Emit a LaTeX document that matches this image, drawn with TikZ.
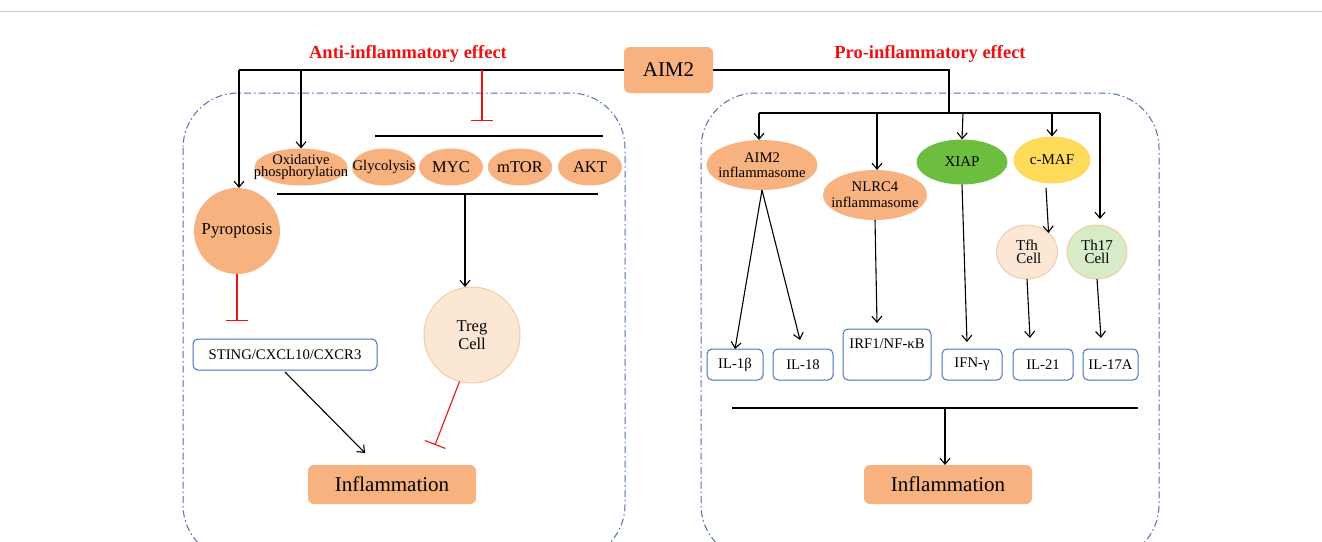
\documentclass[tikz,border=0pt]{standalone}
\usepackage{fontspec}
\setmainfont{Liberation Serif}
\usetikzlibrary{arrows.meta,calc,shapes.geometric}
\definecolor{orng}{HTML}{F8B27F}
\definecolor{peach}{HTML}{FCE6D4}
\definecolor{peachb}{HTML}{F5CBA7}
\definecolor{xgreen}{HTML}{6DBE3F}
\definecolor{myel}{HTML}{FFDB5A}
\definecolor{lgreen}{HTML}{D6EBC6}
\definecolor{bblue}{HTML}{4472C4}
\definecolor{dashblue}{HTML}{4F6FAE}
\definecolor{hred}{HTML}{EE1111}
\begin{document}
\begin{tikzpicture}[x=1pt,y=-1pt,
  every node/.style={inner sep=0pt,outer sep=0pt,align=center},
  shp/.style 2 args={minimum width=#1,minimum height=#2},
  oval/.style={ellipse,fill=orng,minimum width=#1,minimum height=37},
  oval/.default=64,
  ibox/.style={draw=bblue,line width=1pt,rounded corners=5pt,fill=white,minimum height=31},
  conn/.style={line width=1.1pt,-{Straight Barb[length=6pt,width=10pt]}},
  plain/.style={line width=1.1pt},
  inh/.style={line width=1.1pt,draw=hred,-{Bar[width=22pt,line width=1.1pt]}},
  region/.style={draw=dashblue,line width=1pt,dash pattern=on 7pt off 3pt on 1.5pt off 3pt,rounded corners=55pt},
  head/.style={text=hred,font=\bfseries\fontsize{18.5}{20}\selectfont},
  infl/.style={fill=orng,rounded corners=6pt,minimum width=168,minimum height=39,font=\fontsize{21}{23}\selectfont},
  tx/.style={font=\fontsize{14.7}{15}\selectfont},
  lb/.style={label={[align=center,font=\fontsize{#1}{#1}\selectfont]center:{\lbtext}}},
]
\useasboundingbox (0,0) rectangle (1322,541);
\fill[white] (0,0) rectangle (1322,541);
\draw[black!20,line width=1pt] (0,11) -- (1322,11);

% regions
\draw[region] (183,93) rectangle (625,560);
\draw[region] (701,93) rectangle (1159,560);

% AIM2
\node[fill=orng,rounded corners=6pt,minimum width=89,minimum height=46,font=\fontsize{21}{23}\selectfont] (aim2) at (668.5,70) {AIM2};

\node[head] (anti) at (408,54) {Anti-inflammatory effect};
\node[head] (pro) at (930,54) {Pro-inflammatory effect};

% left side nodes
\node[oval=64] (gly) at (384,167) {};
\node[oval=93] (oxp) at (301,167) {};
\node[font=\fontsize{14.5}{12}\selectfont] (oxpt) at (oxp.center) {Oxidative\\phosphorylation};
\node[font=\fontsize{14.7}{15}\selectfont] (glyt) at (gly.center) {Glycolysis};
\node[oval,font=\fontsize{16.5}{18}\selectfont] (myc) at (451,167) {MYC};
\node[oval,font=\fontsize{16.5}{18}\selectfont] (mtor) at (520,167) {mTOR};
\node[oval,font=\fontsize{16.5}{18}\selectfont] (akt) at (590,167) {AKT};

\node[circle,fill=orng,minimum size=86] (pyro) at (237,231) {};
\node[font=\fontsize{16.7}{18}\selectfont] (pyrot) at (pyro.center) {Pyroptosis};
\node[ibox,minimum width=184,font=\fontsize{14.7}{16}\selectfont] (sting) at (285,354.5) {STING/CXCL10/CXCR3};
\node[circle,fill=peach,draw=peachb,line width=1pt,minimum size=96,font=\fontsize{16.5}{18}\selectfont] (treg) at (472,335) {Treg\\Cell};
\node[infl] (inflL) at (392,484.5) {Inflammation};

% left connectors
\coordinate (jL) at (239,70);
\coordinate (jO) at (301,70);
\coordinate (jI) at (482,70);
\coordinate (tI) at (482,121);
\coordinate (bar1a) at (375,136);
\coordinate (bar1b) at (603,136);
\coordinate (bar2a) at (277,194);
\coordinate (bar2b) at (598,194);
\coordinate (bar2m) at (465,194);
\coordinate (sS) at (285,372);
\coordinate (sE) at (365,453);
\coordinate (tE) at (435,445);
\coordinate (pE) at (237,321);
\draw[plain] (aim2.west) -- (jL);
\draw[conn] (jL) -- (pyro.north -| jL);
\draw[conn] (jO) -- (oxp.north);
\draw[inh] (jI) -- (tI);
\draw[plain] (bar1a) -- (bar1b);
\draw[plain] (bar2a) -- (bar2b);
\draw[conn] (bar2m) -- (treg.north -| bar2m);
\draw[inh] (pyro.south) -- (pE);
\draw[conn] (sS) -- (sE);
\draw[inh] (treg.-105) -- (tE);

% right side nodes
\node[ellipse,fill=orng,minimum width=111,minimum height=50] (ai) at (762,165) {};
\node[tx] (ait) at (ai.center) {AIM2\\inflammasome};
\node[ellipse,fill=orng,minimum width=104,minimum height=50] (nl) at (875,195) {};
\node[font=\fontsize{14.7}{16}\selectfont] (nlt) at (nl.center) {NLRC4\\inflammasome};
\node[ellipse,fill=xgreen,minimum width=91,minimum height=45,font=\fontsize{15}{16}\selectfont] (xiap) at (962,162) {XIAP};
\node[ellipse,fill=myel,minimum width=77,minimum height=47,font=\fontsize{15}{16}\selectfont] (cmaf) at (1052,160) {c-MAF};
\node[ellipse,fill=peach,draw=peachb,line width=1pt,minimum width=61,minimum height=54] (tfh) at (1027,252) {};
\node[font=\fontsize{15}{13.5}\selectfont] (tfht) at (tfh.center) {Tfh\\\ Cell};
\node[ellipse,fill=lgreen,draw=peachb,line width=1pt,minimum width=60,minimum height=54] (th17) at (1097,252) {};
\node[font=\fontsize{15}{13.5}\selectfont] (th17t) at (th17.center) {Th17\\Cell};

\node[ibox,minimum width=56,tx] (il1b) at (735,364.5) {IL-1β};
\node[ibox,minimum width=60,tx] (il18) at (803,364.5) {IL-18};
\node[ibox,minimum width=88,minimum height=51,tx] (irf) at (887,354.5) {IRF1/NF-κB\\[7pt]};
\node[ibox,minimum width=60,tx] (ifn) at (972,364.5) {IFN-γ};
\node[ibox,minimum width=60,tx] (il21) at (1043,364.5) {IL-21};
\node[ibox,minimum width=55,tx] (il17) at (1110.5,364.5) {IL-17A};

\node[infl] (inflR) at (948,484.5) {Inflammation};

% right connectors
\coordinate (jR) at (949,70);
\coordinate (jR2) at (949,113);
\coordinate (hL) at (759,113);
\coordinate (hN) at (877,113);
\coordinate (hX) at (963,113);
\coordinate (hR) at (1100,113);
\coordinate (th17top) at (1100,219);
\coordinate (cmafB) at (1046,188);
\coordinate (il18t) at (800,340);
\coordinate (irft) at (877,323);
\coordinate (ifnt) at (967,342);
\coordinate (il21t) at (1030,338);
\coordinate (il17t) at (1101,338);
\draw[plain] (aim2.east) -- (jR) -- (jR2);
\draw[plain] (hL) -- (hR);
\draw[conn] (hL) -- (ai.north -| hL);
\draw[conn] (hN) -- (nl.north -| hN);
\draw[conn] (hX) -- (xiap.north);
\draw[conn] (cmaf.north |- hR) -- (cmaf.north);
\draw[conn] (hR) -- (th17top);
\draw[conn] (cmafB) -- (tfh.north east);
\draw[conn] (ai.south) -- (il1b.north);
\draw[conn] (ai.south) -- (il18t);
\draw[conn] (nl.south) -- (irft);
\draw[conn] (xiap.south) -- (ifnt);
\draw[conn] (tfh.south) -- (il21t);
\draw[conn] (th17.south) -- (il17t);
\coordinate (b3a) at (732,408);
\coordinate (b3b) at (1138,408);
\coordinate (b3m) at (945,408);
\draw[plain] (b3a) -- (b3b);
\draw[conn] (b3m) -- (inflR.north -| b3m);
\end{tikzpicture}
\end{document}
